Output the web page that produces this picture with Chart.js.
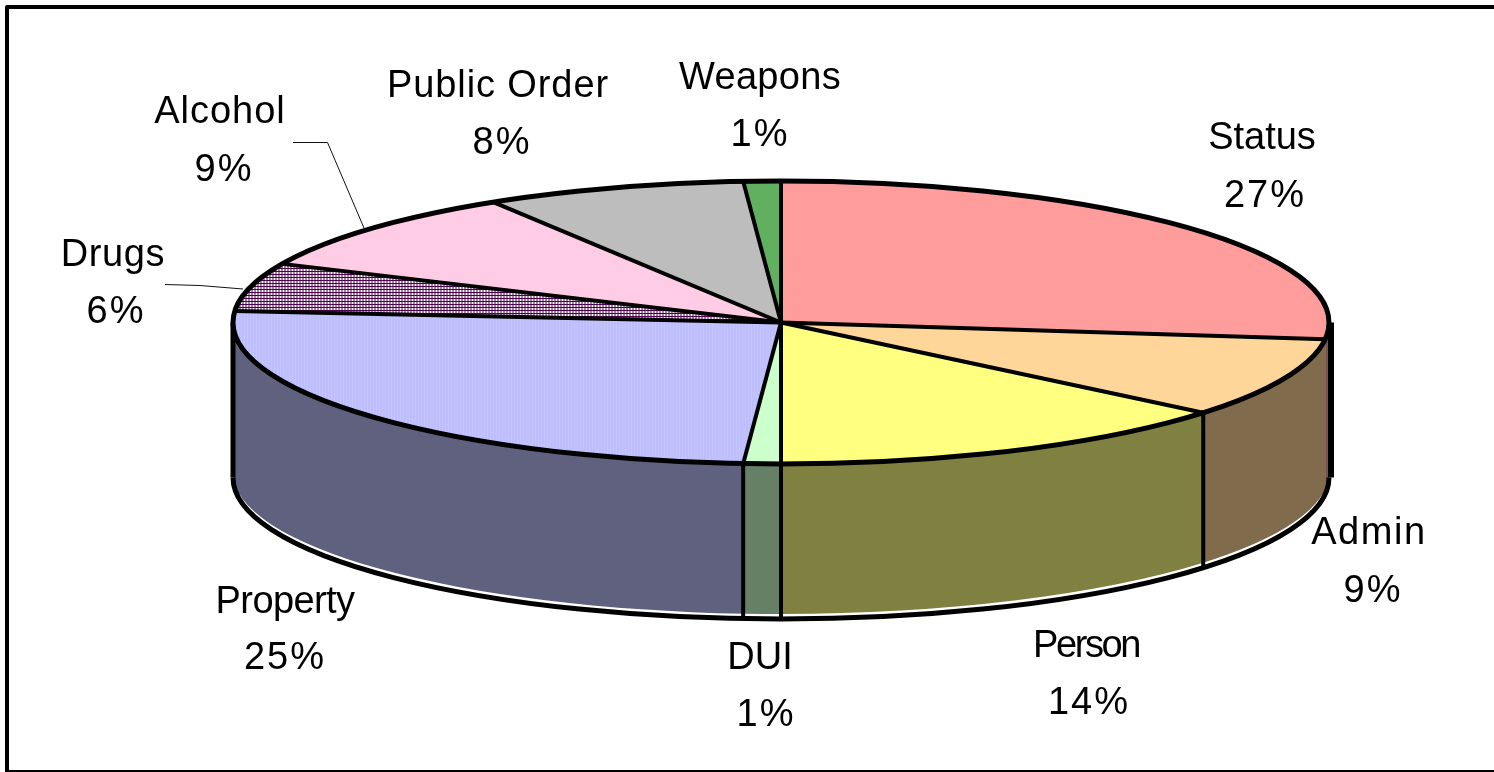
<!DOCTYPE html>
<html>
<head>
<meta charset="utf-8">
<title>Offense categories</title>
<script src="https://cdn.jsdelivr.net/npm/chart.js@4"></script>
<style>
  html, body { margin: 0; padding: 0; background: #fff; overflow: hidden; }
  canvas { display: block; }
</style>
</head>
<body>
<canvas id="pie" width="1494" height="772"></canvas>
<script>
// slices clockwise from 12 o'clock
const categories = ["Status", "Admin", "Person", "DUI", "Property", "Drugs", "Alcohol", "Public Order", "Weapons"];
const shares = [26.9, 9.1, 14.0, 1.1, 25.2, 5.5, 9.4, 7.7, 1.1];
const percentLabels = ["27%", "9%", "14%", "1%", "25%", "6%", "9%", "8%", "1%"];

const topColors = ["#ff9c9c", "#ffd699", "#ffff80", "#ccffcc", null, null, null, "#bdbdbd", "#60b060"];
const wallColors = ["#805050", "#806b4d", "#808040", "#668066", "#60607f", "#60607f", "#806080", "#606060", "#306030"];

// label anchors, [name x, name y, percent x, percent y]
const labelSpots = [
  [1262, 139, 1265, 197],
  [1369, 534, 1373, 592],
  [1086, 647, 1089, 704],
  [760, 659, 766, 716],
  [285, 603, 285, 659],
  [113, 256, 116, 313],
  [220, 113, 224, 171],
  [498, 87, 502, 144],
  [760, 79, 760, 136]
];
// the original text is unevenly spaced
const nameTracking = [0, 1.6, -2.4, 0, -0.6, 0.6, 1, 0.9, 0.3];
const leaderLines = [
  [[293, 142.5], [327.5, 142.5], [364, 228]],
  [[165, 284.5], [200, 285.5], [243, 289]]
];

// squashed pie on the page
const pieBox = { cx: 781, cy: 322.5, rx: 548, ry: 141.5, depth: 155, wallGap: 5 };

function tile(size, paint) {
  const c = document.createElement("canvas");
  c.width = c.height = size;
  paint(c.getContext("2d"));
  return c.getContext("2d").createPattern(c, "repeat");
}

const drugsFill = tile(3, (g) => {
  g.fillStyle = "#500050";
  g.fillRect(0, 0, 3, 3);
  g.fillStyle = "#ffffff";
  g.fillRect(1, 1, 2, 2);
});
const alcoholFill = tile(2, (g) => {
  g.fillStyle = "#ffe8f3";
  g.fillRect(0, 0, 2, 2);
  g.fillStyle = "#ffb0d8";
  g.fillRect(0, 0, 1, 1);
  g.fillRect(1, 1, 1, 1);
});
const propertyFill = tile(3, (g) => {
  g.fillStyle = "#c4c4ff";
  g.fillRect(0, 0, 3, 3);
  g.fillStyle = "#b8b8fa";
  g.fillRect(0, 0, 1, 3);
});
topColors[4] = propertyFill;
topColors[5] = drugsFill;
topColors[6] = alcoholFill;

function wallPath(ctx, from, to, drop) {
  const { cx, cy, rx, ry } = pieBox;
  ctx.beginPath();
  ctx.ellipse(cx, cy, rx, ry, 0, from, to);
  ctx.ellipse(cx, cy + drop, rx, ry, 0, to, from, true);
  ctx.closePath();
}

const pie3d = {
  id: "pie3d",
  beforeDatasetsDraw(chart) {
    const ctx = chart.ctx;
    const arcs = chart.getDatasetMeta(0).data;
    const sx = pieBox.rx / arcs[0].outerRadius;
    const sy = pieBox.ry / arcs[0].outerRadius;
    const { cx, cy, rx, ry, depth, wallGap } = pieBox;

    // keep the hatch cells square once the pie gets squashed
    const undo = new DOMMatrix().scale(1 / sx, 1 / sy);
    drugsFill.setTransform(undo);
    alcoholFill.setTransform(undo);
    propertyFill.setTransform(undo);

    // side wall, only the front half shows
    arcs.forEach((arc, i) => {
      const from = Math.max(arc.startAngle, 0);
      const to = Math.min(arc.endAngle, Math.PI);
      if (to <= from) return;
      wallPath(ctx, from, to, depth - wallGap);
      ctx.fillStyle = wallColors[i];
      ctx.fill();
    });

    ctx.strokeStyle = "#000";
    ctx.lineWidth = 5;
    ctx.beginPath();
    ctx.ellipse(cx, cy + depth, rx, ry, 0, 0, Math.PI);
    ctx.stroke();

    ctx.beginPath();
    ctx.moveTo(cx - rx, cy);
    ctx.lineTo(cx - rx, cy + depth);
    ctx.stroke();
    ctx.lineWidth = 6;
    ctx.beginPath();
    ctx.moveTo(cx + rx + 2, cy);
    ctx.lineTo(cx + rx + 2, cy + depth);
    ctx.stroke();
    ctx.lineWidth = 4;

    arcs.forEach((arc) => {
      const a = arc.endAngle;
      if (a <= 0 || a >= Math.PI) return;
      const x = cx + rx * Math.cos(a);
      const y = cy + ry * Math.sin(a);
      if (x > cx + rx - 10) return;
      ctx.beginPath();
      ctx.moveTo(x, y);
      ctx.lineTo(x, y + depth);
      ctx.stroke();
    });

    // the library draws the slices inside this squash
    ctx.save();
    ctx.translate(cx, cy);
    ctx.scale(sx, sy);
    ctx.translate(-arcs[0].x, -arcs[0].y);
  },
  afterDatasetsDraw(chart) {
    const ctx = chart.ctx;
    ctx.restore();
    const arcs = chart.getDatasetMeta(0).data;
    const { cx, cy, rx, ry } = pieBox;

    ctx.strokeStyle = "#000";
    ctx.lineWidth = 5;
    ctx.lineJoin = "round";
    ctx.beginPath();
    ctx.ellipse(cx, cy, rx, ry, 0, 0, Math.PI * 2);
    ctx.stroke();
    ctx.lineWidth = 4;
    arcs.forEach((arc) => {
      ctx.beginPath();
      ctx.moveTo(cx, cy);
      ctx.lineTo(cx + rx * Math.cos(arc.startAngle), cy + ry * Math.sin(arc.startAngle));
      ctx.stroke();
    });

    // frame
    ctx.lineWidth = 4;
    ctx.beginPath();
    ctx.moveTo(1494, 7);
    ctx.lineTo(7, 7);
    ctx.lineTo(7, 772);
    ctx.stroke();
    ctx.lineWidth = 2;
    ctx.beginPath();
    ctx.moveTo(7, 771);
    ctx.lineTo(1494, 771);
    ctx.stroke();

    // leaders
    ctx.strokeStyle = "#111";
    ctx.lineWidth = 1;
    leaderLines.forEach((pts) => {
      ctx.beginPath();
      pts.forEach((p, i) => (i ? ctx.lineTo(p[0], p[1]) : ctx.moveTo(p[0], p[1])));
      ctx.stroke();
    });

    ctx.fillStyle = "#000";
    ctx.font = '38px "Liberation Sans"';
    ctx.textAlign = "center";
    ctx.textBaseline = "middle";
    categories.forEach((name, i) => {
      const s = labelSpots[i];
      ctx.letterSpacing = nameTracking[i] + "px";
      ctx.fillText(name, s[0], s[1]);
      ctx.letterSpacing = "2px";
      ctx.fillText(percentLabels[i], s[2], s[3]);
    });
    ctx.letterSpacing = "0px";
  }
};

new Chart(document.getElementById("pie"), {
  type: "pie",
  data: {
    labels: categories,
    datasets: [{
      data: shares,
      backgroundColor: topColors,
      borderWidth: 0
    }]
  },
  options: {
    responsive: false,
    animation: false,
    layout: { padding: 0 },
    plugins: { legend: { display: false }, tooltip: { enabled: false } }
  },
  plugins: [pie3d]
});
</script>
</body>
</html>
